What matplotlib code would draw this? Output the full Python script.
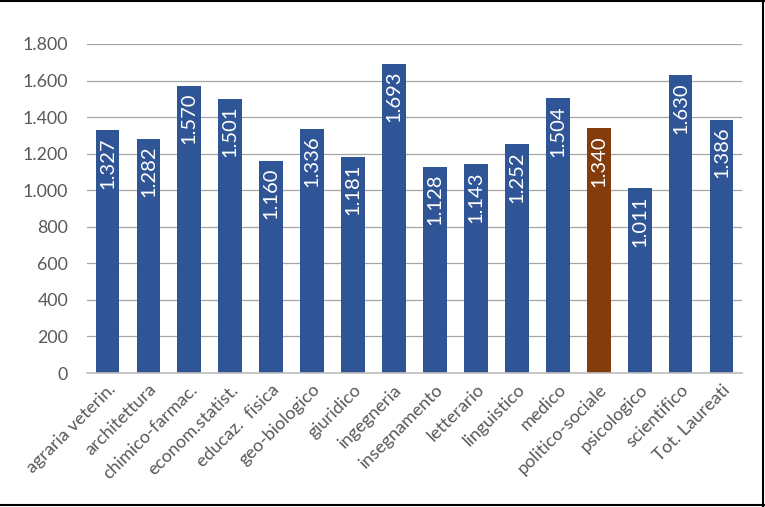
import matplotlib
matplotlib.use("Agg")
import matplotlib.pyplot as plt
from matplotlib.lines import Line2D

categories = ["agraria veterin.", "architettura", "chimico-farmac.", "econom.statist.",
              "educaz.  fisica", "geo-biologico", "giuridico", "ingegneria",
              "insegnamento", "letterario", "linguistico", "medico",
              "politico-sociale", "psicologico", "scientifico", "Tot. Laureati"]
values = [1327, 1282, 1570, 1501, 1160, 1336, 1181, 1693,
          1128, 1143, 1252, 1504, 1340, 1011, 1630, 1386]
highlight = "politico-sociale"
yticks = [0, 200, 400, 600, 800, 1000, 1200, 1400, 1600, 1800]

def fmt(v):
    return f"{v:,}".replace(",", ".")

plt.rcParams['font.family'] = ['Lato', 'DejaVu Sans']

fig = plt.figure(figsize=(7.65, 5.07), dpi=100)
ax = fig.add_axes([87/765, 1-373/507, (742-87)/765, (373-44)/507])

blue = "#2F5597"
brown = "#843C0C"
colors = [brown if c == highlight else blue for c in categories]
x = list(range(len(categories)))
ax.bar(x, values, width=0.58, color=colors, zorder=3)

for xi, v in zip(x, values):
    ax.text(xi, v - 38, fmt(v), rotation=90, ha='center', va='top',
            color='white', fontsize=14.5, zorder=4)

ax.set_ylim(0, 1800)
ax.set_xlim(-0.5, len(categories) - 0.5)
ax.set_yticks(yticks)
ax.set_yticklabels([fmt(t) for t in yticks], fontsize=12.8, color="#595959")
ax.yaxis.grid(True, color="#a6a6a6", linewidth=0.9, zorder=0)
ax.set_axisbelow(True)
ax.set_xticks(x)
ax.set_xticklabels(categories, rotation=45, ha='right', rotation_mode='anchor',
                   fontsize=13, color="#595959")
ax.tick_params(axis='both', length=0)
ax.tick_params(axis='y', pad=13.5)
ax.tick_params(axis='x', pad=6)
for s in ['top', 'right', 'left']:
    ax.spines[s].set_visible(False)
ax.spines['bottom'].set_color("#bfbfbf")
ax.spines['bottom'].set_linewidth(1.2)
ax.spines['bottom'].set_zorder(5)

# figure frame (top, right, bottom)
for xs, ys in [((0, 1), (0.999, 0.999)), ((0.998, 0.998), (0, 1)), ((0, 1), (0.004, 0.004))]:
    fig.add_artist(Line2D(xs, ys, transform=fig.transFigure, color='black', linewidth=1.5))

fig.savefig("out.png", dpi=100)
